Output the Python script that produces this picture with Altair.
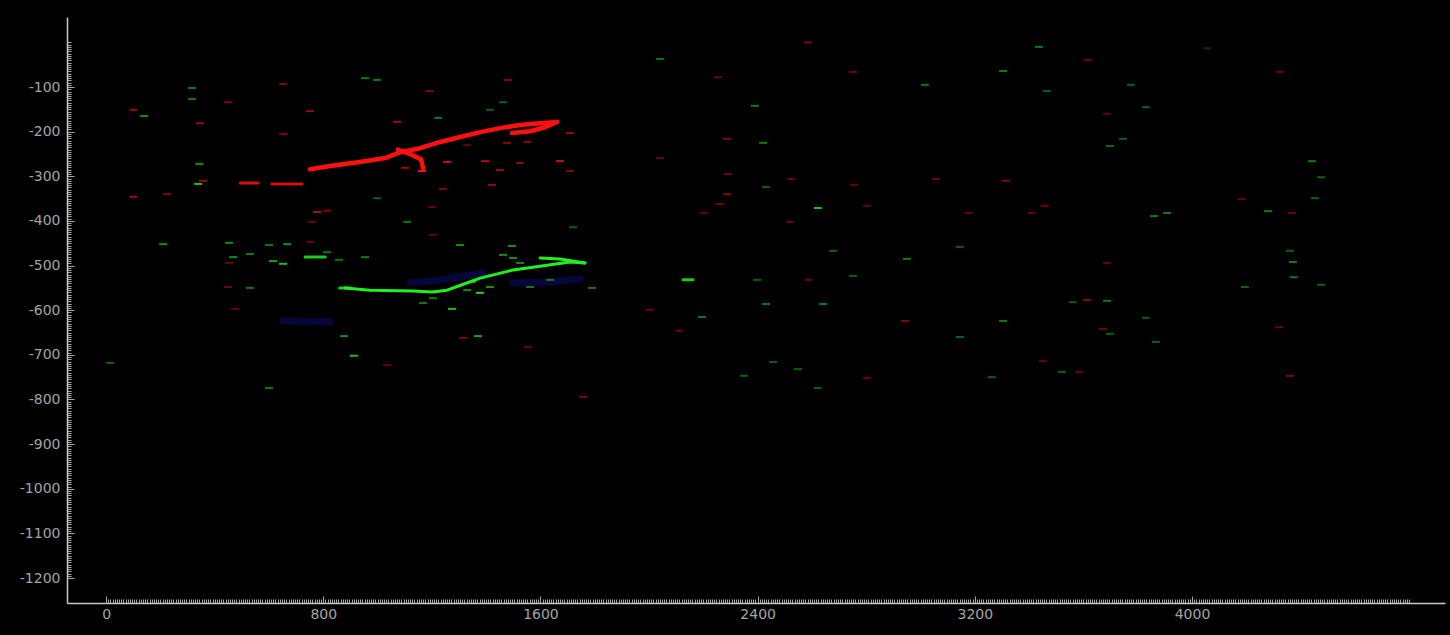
import altair as alt
import pandas as pd

# ---------------- data ----------------
# red main trace (part id, x, y)
red_part = ["a"] * 13 + ["b"] * 4 + ["c"] * 4
red_x = [751, 825, 935, 1028, 1083, 1157, 1230, 1304, 1378, 1451, 1525, 1599, 1661,
         1661, 1617, 1562, 1495,
         1075, 1120, 1160, 1168]
red_y = [-284, -277, -268, -259, -246, -237, -223, -212, -201, -192, -185, -181, -178,
         -178, -190, -199, -203,
         -240, -250, -262, -282]

# green main trace
green_part = ["a"] * 11 + ["b"] * 3
green_x = [880, 972, 1131, 1201, 1256, 1311, 1378, 1499, 1624, 1709, 1764,
           1764, 1672, 1599]
green_y = [-550, -555, -557, -559, -555, -543, -528, -510, -499, -492, -494,
           -494, -485, -483]

# faint blue trace
blue_part = ["a", "a", "a", "b", "b", "b", "c", "c"]
blue_x = [1120, 1230, 1389, 1499, 1635, 1746, 650, 825]
blue_y = [-539, -532, -517, -539, -537, -530, -624, -626]

# longer isolated strokes: start x, end x, y, colour
long_x1 = [494, 611, 733, 2125, 860]
long_x2 = [560, 722, 807, 2162, 900]
long_y = [-315, -317, -481, -532, -550]
long_c = ["red", "red", "green", "green", "green"]

# scattered red dashes: x, y, intensity
red_dx = [100, 450, 652, 346, 652, 751, 1193, 1481, 1072, 1709, 1551, 1477, 1330,
          1256, 1396, 1525, 1672, 1451, 1709, 1101, 1241, 1422, 1201, 777, 357,
          100, 225, 814, 759, 751, 453, 449, 475, 1204, 1315, 1554, 1035, 1757,
          2585, 2254, 2751, 2287, 2040, 2291, 2523, 2755, 3057, 3315, 2287, 2261,
          2202, 2803, 3178, 3410, 3458, 2519, 2589, 2004, 2110, 2943, 3451, 2803,
          4324, 3687, 3617, 4184, 4368, 3687, 3613, 3672, 4320, 3584, 4361, 1164]
red_dy = [-151, -134, -93, -181, -205, -154, -109, -84, -178, -203, -223, -225, -230,
          -268, -266, -270, -266, -286, -288, -281, -328, -319, -369, -380, -310,
          -346, -340, -377, -402, -447, -494, -548, -597, -431, -662, -682, -723, -794,
          0, -78, -66, -216, -259, -295, -306, -319, -306, -310, -340, -362,
          -382, -366, -382, -382, -366, -402, -532, -599, -646, -624, -714, -752,
          -66, -160, -39, -351, -382, -494, -577, -642, -638, -738, -747, -288]
red_di = [0.6, 0.5, 0.5, 0.6, 0.5, 0.6, 0.5, 0.5, 0.6, 0.6, 0.5, 0.5, 0.4,
          0.8, 0.7, 0.6, 0.8, 0.6, 0.5, 0.6, 0.5, 0.6, 0.4, 0.7, 0.6,
          0.6, 0.5, 0.5, 0.4, 0.4, 0.4, 0.4, 0.4, 0.4, 0.5, 0.4, 0.4, 0.5,
          0.5, 0.4, 0.4, 0.5, 0.4, 0.4, 0.4, 0.4, 0.4, 0.5, 0.5, 0.4,
          0.4, 0.4, 0.4, 0.4, 0.4, 0.4, 0.4, 0.4, 0.4, 0.5, 0.4, 0.4,
          0.4, 0.4, 0.4, 0.4, 0.4, 0.4, 0.5, 0.4, 0.4, 0.4, 0.5, 1.0]

# scattered green dashes: x, y, intensity
green_dx = [140, 317, 317, 954, 998, 1223, 1414, 1462, 343, 339, 998, 210, 453, 468,
            530, 530, 600, 667, 615, 652, 814, 858, 954, 877, 913, 15, 600, 1109,
            1720, 1304, 1495, 1462, 1499, 1525, 1635, 1562, 1790, 1348, 1414, 1377,
            1330, 1204, 1167, 1274, 1370, 2040, 3016, 3436, 3304, 3466, 2390, 2420,
            2431, 2622, 2678, 2950, 3145, 2398, 2751, 2195, 2431, 2641, 3304, 3145,
            3263, 2457, 2549, 2350, 2622, 3860, 3908, 4280, 4361, 4372, 4375, 4195,
            4475, 3561, 3687, 3830, 3698, 3867, 3521, 3775, 3830, 3746, 3698, 4442,
            4475, 4453, 4055]
green_dy = [-165, -102, -127, -80, -84, -169, -151, -134, -272, -317, -349, -452, -449,
            -481, -474, -550, -454, -452, -490, -496, -470, -487, -481, -658, -702,
            -718, -774, -402, -414, -454, -456, -476, -483, -494, -532, -548, -550,
            -537, -548, -561, -555, -573, -584, -597, -658, -37, -95, -10, -64, -109,
            -142, -225, -324, -371, -467, -485, -458, -532, -523, -615, -586, -586,
            -624, -660, -750, -716, -732, -747, -774, -389, -382, -378, -467, -492,
            -526, -548, -543, -582, -579, -617, -653, -671, -738, -95, -145, -216,
            -232, -266, -302, -349, -13]
green_di = [0.6, 0.5, 0.5, 0.5, 0.5, 0.5, 0.4, 0.4, 0.6, 0.8, 0.4, 0.6, 0.6, 0.6,
            0.5, 0.5, 0.5, 0.6, 0.7, 0.8, 0.5, 0.5, 0.5, 0.6, 0.8, 0.4, 0.5, 0.5,
            0.4, 0.6, 0.6, 0.6, 0.6, 0.6, 0.5, 0.5, 0.5, 0.6, 0.6, 0.9, 0.6, 0.5,
            0.5, 0.8, 0.7, 0.5, 0.5, 0.5, 0.5, 0.4, 0.5, 0.5, 0.4, 0.8, 0.4, 0.5,
            0.4, 0.4, 0.4, 0.5, 0.5, 0.5, 0.5, 0.4, 0.4, 0.4, 0.4, 0.4, 0.4, 0.5,
            0.5, 0.5, 0.4, 0.5, 0.5, 0.4, 0.4, 0.4, 0.5, 0.4, 0.4, 0.4, 0.4, 0.4,
            0.4, 0.4, 0.4, 0.5, 0.4, 0.4, 0.2]

# axes
x_major = [0, 800, 1600, 2400, 3200, 4000]
y_major = [-100, -200, -300, -400, -500, -600, -700, -800, -900, -1000, -1100, -1200]
x_minor = list(range(0, 4801, 8))
y_minor = list(range(0, -1201, -5))
x_domain = [-144, 4932]
y_domain = [-1256, 57]

# ---------------- tables ----------------
traces = pd.concat([
    pd.DataFrame({"part": ["r" + p for p in red_part], "x": red_x, "y": red_y, "c": "red"}),
    pd.DataFrame({"part": ["g" + p for p in green_part], "x": green_x, "y": green_y, "c": "green"}),
])
traces["o"] = range(len(traces))
blue = pd.DataFrame({"part": blue_part, "x": blue_x, "y": blue_y, "c": "blue"})
blue["o"] = range(len(blue))
longs = pd.DataFrame({"x": long_x1, "x2": long_x2, "y": long_y, "c": long_c})
dashes = pd.concat([
    pd.DataFrame({"x": red_dx, "y": red_dy, "i": red_di, "c": "red"}),
    pd.DataFrame({"x": green_dx, "y": green_dy, "i": green_di, "c": "green"}),
])

color_scale = alt.Scale(domain=["red", "green", "blue"], range=["#ff1010", "#20f020", "#1010b0"])
xs = alt.Scale(domain=x_domain, nice=False, zero=False)
ys = alt.Scale(domain=y_domain, nice=False, zero=False)

TICK = "#a8a8a8"
LAB = "#a4a4a4"
FONT = "DejaVu Sans"


def tick_axis(orient, values, size):
    return alt.Axis(orient=orient, values=values, tickSize=size, tickColor=TICK, tickWidth=1,
                    offset=-size, domain=False, labels=False, grid=False, title=None)


def label_axis(orient, values, pad):
    return alt.Axis(orient=orient, values=values, ticks=False, domain=True,
                    domainColor="#c8c8c8", domainWidth=1.5, labelColor=LAB,
                    labelFont=FONT, labelFontSize=14, labelPadding=pad,
                    labelExpr="toString(datum.value)",
                    labelOverlap=False, labelFlush=False, grid=False, title=None)


blue_layer = alt.Chart(blue).mark_line(strokeWidth=7, opacity=0.35, strokeCap="round").encode(
    x=alt.X("x:Q", scale=xs, axis=tick_axis("bottom", x_major, 7)),
    y=alt.Y("y:Q", scale=ys, axis=tick_axis("left", y_major, 7)),
    color=alt.Color("c:N", scale=color_scale, legend=None),
    detail="part:N",
    order="o:Q",
)

dash_layer = alt.Chart(dashes).mark_tick(orient="horizontal", size=8, thickness=2).encode(
    x=alt.X("x:Q", scale=xs, axis=tick_axis("bottom", x_minor, 4)),
    y=alt.Y("y:Q", scale=ys, axis=tick_axis("left", y_minor, 4)),
    color=alt.Color("c:N", scale=color_scale, legend=None),
    opacity=alt.Opacity("i:Q", scale=alt.Scale(domain=[0, 1], range=[0, 1]), legend=None),
)

long_layer = alt.Chart(longs).mark_rule(strokeWidth=3, opacity=0.85, strokeCap="round").encode(
    x=alt.X("x:Q", scale=xs, axis=None),
    x2="x2:Q",
    y=alt.Y("y:Q", scale=ys, axis=None),
    color=alt.Color("c:N", scale=color_scale, legend=None),
)

trace_layer = alt.Chart(traces).mark_line(strokeCap="round", strokeJoin="round").encode(
    x=alt.X("x:Q", scale=xs, axis=label_axis("bottom", x_major, 4)),
    y=alt.Y("y:Q", scale=ys, axis=label_axis("left", y_major, 7)),
    color=alt.Color("c:N", scale=color_scale, legend=None),
    strokeWidth=alt.condition("datum.c == 'red'", alt.value(4.5), alt.value(3)),
    detail="part:N",
    order="o:Q",
)

chart = alt.layer(blue_layer, dash_layer, long_layer, trace_layer).resolve_axis(
    x="independent", y="independent"
).properties(
    width=1378, height=586,
    padding={"left": 67, "top": 17, "right": 5, "bottom": 32},
    autosize=alt.AutoSizeParams(type="none"),
    background="black",
).configure_view(strokeWidth=0)

chart.save("out.html", embed_options={"renderer": "svg", "actions": False})
